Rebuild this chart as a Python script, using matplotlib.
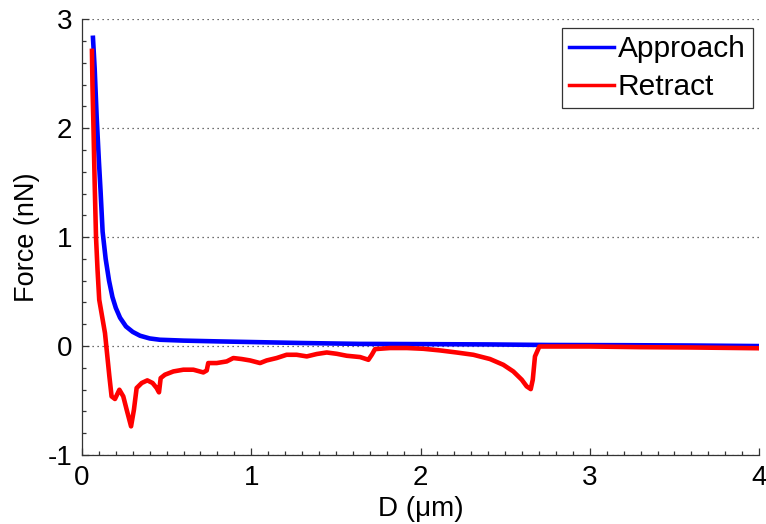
import matplotlib
matplotlib.use("Agg")
import matplotlib.pyplot as plt
from matplotlib.ticker import MultipleLocator

# Approach curve (blue)
approach_x = [0.065, 0.075, 0.087, 0.100, 0.110, 0.122, 0.140, 0.160, 0.180, 0.200,
              0.225, 0.260, 0.300, 0.343, 0.400, 0.460, 0.600, 0.800, 1.000, 1.300,
              1.640, 2.000, 2.400, 2.750, 3.200, 3.600, 4.000]
approach_y = [2.83, 2.55, 2.10, 1.70, 1.42, 1.05, 0.80, 0.60, 0.45, 0.35,
              0.26, 0.18, 0.13, 0.095, 0.07, 0.058, 0.05, 0.043, 0.037, 0.028,
              0.020, 0.018, 0.015, 0.010, 0.008, 0.005, 0.0]

# Retract curve (red)
retract_x = [0.059, 0.062, 0.067, 0.075, 0.083, 0.092, 0.102, 0.136, 0.162, 0.175,
             0.195, 0.221, 0.244, 0.264, 0.290, 0.307, 0.323, 0.353, 0.386, 0.417,
             0.441, 0.455, 0.465, 0.490, 0.540, 0.599, 0.658, 0.717, 0.737, 0.746,
             0.796, 0.855, 0.894, 0.943, 0.993, 1.052, 1.091, 1.150, 1.209, 1.268,
             1.328, 1.387, 1.446, 1.505, 1.564, 1.643, 1.692, 1.712, 1.731, 1.820,
             1.919, 2.017, 2.115, 2.213, 2.312, 2.410, 2.489, 2.548, 2.598, 2.627,
             2.651, 2.663, 2.676, 2.702, 2.805, 3.000, 3.300, 3.600, 4.000]
retract_y = [2.71, 2.40, 2.08, 1.50, 1.00, 0.70, 0.425, 0.119, -0.279, -0.462,
             -0.486, -0.401, -0.462, -0.584, -0.737, -0.584, -0.385, -0.339, -0.315, -0.339,
             -0.385, -0.425, -0.294, -0.263, -0.233, -0.217, -0.217, -0.242, -0.224, -0.156,
             -0.156, -0.141, -0.110, -0.119, -0.132, -0.156, -0.132, -0.110, -0.080, -0.080,
             -0.095, -0.073, -0.059, -0.071, -0.089, -0.101, -0.126, -0.080, -0.028, -0.018,
             -0.018, -0.025, -0.040, -0.059, -0.080, -0.119, -0.172, -0.233, -0.309, -0.370,
             -0.395, -0.309, -0.095, -0.004, -0.004, -0.004, -0.010, -0.013, -0.020]

x_ticks = [0, 1, 2, 3, 4]
y_ticks = [-1, 0, 1, 2, 3]

plt.rcParams['font.family'] = ['Liberation Sans', 'DejaVu Sans']
plt.rcParams['axes.unicode_minus'] = False

fig = plt.figure(figsize=(7.66, 5.24), dpi=100)
ax = fig.add_axes([0.107, 0.1317, 0.884, 0.8315])

ax.plot(approach_x, approach_y, color='#0000ff', lw=3.3, label='Approach', solid_joinstyle='round')
ax.plot(retract_x, retract_y, color='#ff0000', lw=3.3, label='Retract', solid_joinstyle='round')

ax.set_xlim(0, 4)
ax.set_ylim(-1, 3)
ax.set_xticks(x_ticks)
ax.set_yticks(y_ticks)
ax.xaxis.set_minor_locator(MultipleLocator(0.1))
ax.yaxis.set_minor_locator(MultipleLocator(0.2))

for s in ['top', 'right']:
    ax.spines[s].set_visible(False)
for s in ['left', 'bottom']:
    ax.spines[s].set_color('#333333')
    ax.spines[s].set_linewidth(0.9)

ax.tick_params(which='major', direction='in', length=5, width=0.9, labelsize=20, pad=7, colors='#333333', labelcolor='black')
ax.tick_params(which='minor', direction='in', length=3, width=0.9, colors='#333333')

ax.grid(axis='y', which='major', linestyle=(0, (1, 3)), color='#404040', lw=0.9)
ax.set_axisbelow(True)

ax.set_xlabel('D (\u03bcm)', fontsize=20, labelpad=4)
ax.set_ylabel('Force (nN)', fontsize=19.5, labelpad=5.5)

leg = ax.legend(loc='upper right', bbox_to_anchor=(0.991, 0.980), borderaxespad=0,
                fontsize=21.5, handlelength=1.5, handletextpad=0.12, labelspacing=0.32,
                borderpad=0.25, fancybox=False, framealpha=1, edgecolor='#333333')
leg.get_frame().set_linewidth(0.9)
for l in leg.get_lines():
    l.set_linewidth(2.5)

fig.savefig('out.png', dpi=100)
